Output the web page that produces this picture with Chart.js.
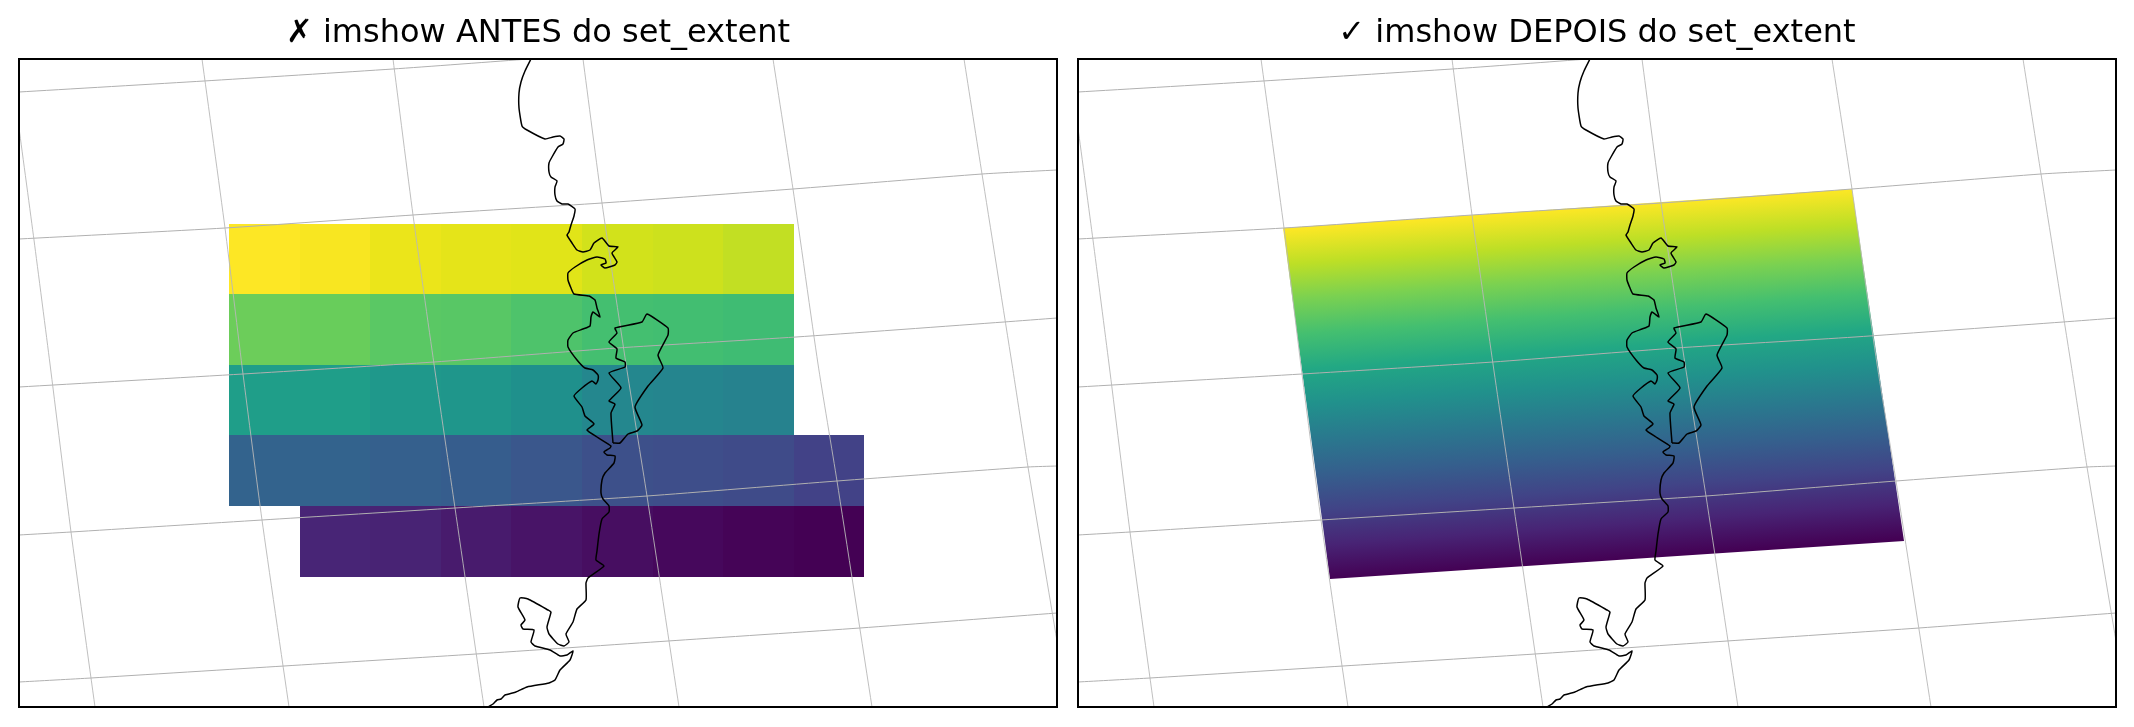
<!DOCTYPE html>
<html>
<head>
<meta charset="utf-8">
<title>imshow e set_extent</title>
<script src="https://cdn.jsdelivr.net/npm/chart.js@4"></script>
<style>
    html, body { margin: 0; padding: 0; background: #fff; overflow: hidden; }
    #page { position: relative; width: 2134px; height: 727px; }
    .panel { position: absolute; top: 0; width: 1075px; height: 727px; }
</style>
</head>
<body>
<div id="page">
    <div class="panel" style="left: 0"><canvas id="before"></canvas></div>
    <div class="panel" style="left: 1059px"><canvas id="after"></canvas></div>
</div>
<script>
const titleBefore = '✗ imshow ANTES do set_extent';
const titleAfter = '✓ imshow DEPOIS do set_extent';

// map extent
const mapWidth = 1038;
const mapHeight = 648;

// graticule
const meridianA = [[0, 69], [15, 181], [31, 305], [52, 473], [76, 648]];
const meridianB = [[183, 0], [206, 169], [224, 315], [243, 461], [270, 648]];
const meridianC = [[374, 0], [394, 156], [415, 305], [436, 449], [465, 648]];
const meridianD = [[564, 0], [583, 144], [607, 305], [628, 437], [660, 648]];
const meridianE = [[754, 0], [774, 130], [799, 305], [818, 422], [853, 648]];
const meridianF = [[945, 0], [963, 115], [993, 305], [1009, 408], [1038, 582]];
const parallelA = [[0, 33], [185, 22], [374, 10], [510, 0]];
const parallelB = [[0, 180], [206, 169], [394, 156], [583, 144], [774, 130], [963, 115], [1038, 111]];
const parallelC = [[0, 328], [224, 315], [415, 303], [598, 289], [777, 278], [985, 263], [1038, 259]];
const parallelD = [[0, 476], [52, 473], [243, 461], [436, 449], [628, 437], [818, 422], [1009, 408], [1038, 407]];
const parallelE = [[0, 623], [72, 619], [265, 607], [457, 595], [649, 582], [841, 569], [1038, 554]];

// coastline
const coastMain = [
    [512, 0], [506, 12], [502, 23], [500, 34], [500, 49], [503, 67], [508, 71], [526, 80], [534, 78], [541, 77],
    [545, 80], [544, 85], [539, 88], [533, 98], [530, 104], [530, 113], [532, 118], [538, 122], [536, 128], [536, 136],
    [538, 142], [543, 145], [549, 145], [556, 150], [555, 157], [552, 166], [550, 173], [548, 176], [553, 184], [558, 191],
    [564, 193], [571, 191], [575, 184], [583, 179], [590, 187], [599, 188], [593, 194], [598, 203], [596, 206], [586, 209],
    [582, 206], [587, 204], [586, 200], [578, 198], [568, 201], [556, 208], [549, 214], [549, 221], [552, 229], [555, 235],
    [570, 237], [576, 241], [578, 249], [581, 258], [574, 253], [572, 258], [571, 267], [564, 270], [554, 274], [549, 281],
    [549, 288], [558, 301], [566, 309], [574, 311], [579, 316], [579, 321], [577, 325], [573, 322], [563, 329], [555, 337],
    [563, 348], [566, 357], [575, 365], [568, 371], [578, 378], [592, 387], [591, 389], [585, 393], [588, 396], [596, 397],
    [595, 404], [586, 414], [583, 421], [582, 434], [584, 440], [590, 447], [590, 453], [583, 460], [580, 475], [578, 492],
    [577, 501], [585, 507], [569, 519], [567, 524], [567, 541], [558, 550], [554, 563], [547, 575], [550, 583], [545, 587],
    [539, 585], [530, 575], [528, 568], [532, 553], [529, 551], [509, 540], [501, 539], [499, 548], [506, 561], [502, 566],
    [504, 570], [515, 571], [512, 583], [516, 587], [531, 591], [541, 597], [548, 596], [554, 592], [551, 601], [541, 611],
    [536, 621], [530, 624], [508, 628], [497, 633], [486, 636], [482, 640], [478, 641], [474, 645], [469, 648]
];
const coastLoop = [
    [594, 384], [592, 354], [596, 345], [590, 342], [602, 329], [590, 314], [606, 308], [606, 303], [597, 299], [598, 290],
    [590, 283], [598, 274], [596, 269], [623, 263], [628, 255], [649, 269], [649, 276], [639, 296], [644, 309], [629, 327],
    [616, 348], [623, 366], [618, 372], [609, 375], [601, 384], [594, 384]
];

// raster cell edges on the left map
const cellX = [210, 281, 351, 422, 492, 563, 634, 704, 775, 845];
const cellY = [165, 235, 306, 376, 447, 518];
const rowStart = [0, 0, 0, 0, 1];
const rowA = ['#fde725', '#f8e621', '#ebe51a', '#e5e419', '#e1e418', '#d2e21b', '#cde11d', '#c2df23'];
const rowB = ['#6ccd5a', '#68cd5b', '#5ac864', '#58c765', '#4ec36b', '#44bf70', '#42be71', '#3fbc73'];
const rowC = ['#1f9e89', '#1f9e89', '#1f988b', '#1f968b', '#1f908c', '#24878e', '#25858e', '#26828e'];
const rowD = ['#33638d', '#33638d', '#35608d', '#365d8d', '#3a578c', '#3d508a', '#3e4e8a', '#3f4b89', '#424287'];
const rowE = ['#482576', '#482374', '#481b6d', '#481467', '#470e61', '#46085c', '#450457', '#440154'];

// warped raster on the right map
const warpedCorners = [[205, 169], [774, 130], [826, 482], [252, 520], [205, 169]];
const viridisStops = ['#440154', '#482475', '#414487', '#355f8d', '#2a788e', '#21918c', '#22a884', '#44bf70', '#7ad151', '#bddf26', '#fde725'];

function toPoints(pairs) {
    return pairs.map(function(p) { return { x: p[0], y: p[1] }; });
}

function lineSet(pairs, color, width, order, tension) {
    return {
        data: toPoints(pairs),
        borderColor: color,
        borderWidth: width,
        pointRadius: 0,
        tension: tension,
        fill: false,
        order: order
    };
}

function mapLines() {
    const sets = [meridianA, meridianB, meridianC, meridianD, meridianE, meridianF].map(function(g) {
        return lineSet(g, '#b8b8b8', 0.9, 2, 0.2);
    });
    [parallelA, parallelB, parallelC, parallelD, parallelE].forEach(function(g) {
        sets.push(lineSet(g, '#b0b0b0', 1, 2, 0.2));
    });
    sets.unshift(lineSet(coastMain, '#000000', 1.5, 1, 0.15));
    sets.unshift(lineSet(coastLoop, '#000000', 1.5, 1, 0.15));
    return sets;
}

function cellSets() {
    const sets = [];
    [rowA, rowB, rowC, rowD, rowE].forEach(function(row, r) {
        row.forEach(function(color, c) {
            const x0 = cellX[rowStart[r] + c];
            const x1 = cellX[rowStart[r] + c + 1];
            const y0 = cellY[r];
            const y1 = cellY[r + 1];
            sets.push({
                data: toPoints([[x0, y0], [x1, y0], [x1, y1], [x0, y1], [x0, y0]]),
                borderWidth: 0,
                pointRadius: 0,
                backgroundColor: color,
                fill: 'shape',
                order: 3
            });
        });
    });
    return sets;
}

function warpedSet() {
    return {
        data: toPoints(warpedCorners),
        borderWidth: 0,
        pointRadius: 0,
        fill: 'shape',
        order: 3,
        backgroundColor: function(context) {
            const chart = context.chart;
            if (!chart.chartArea) return '#21918c';
            const sx = chart.scales.x;
            const sy = chart.scales.y;
            // runs across the top and bottom edges of the warped raster
            const g = chart.ctx.createLinearGradient(
                sx.getPixelForValue(514), sy.getPixelForValue(502),
                sx.getPixelForValue(489), sy.getPixelForValue(150));
            viridisStops.forEach(function(color, i) {
                g.addColorStop(i / (viridisStops.length - 1), color);
            });
            return g;
        }
    };
}

const frame = {
    id: 'frame',
    afterDraw: function(chart) {
        const a = chart.chartArea;
        const ctx = chart.ctx;
        ctx.save();
        ctx.strokeStyle = '#000';
        ctx.lineWidth = 2;
        ctx.strokeRect(a.left, a.top, a.right - a.left, a.bottom - a.top);
        ctx.restore();
    }
};

function drawMap(id, title, raster) {
    new Chart(document.getElementById(id), {
        type: 'line',
        data: { datasets: mapLines().concat(raster) },
        options: {
            responsive: false,
            animation: false,
            devicePixelRatio: 1,
            layout: { padding: { left: 19, right: 18, bottom: 20 } },
            plugins: {
                legend: { display: false },
                tooltip: { enabled: false },
                title: {
                    display: true,
                    text: title,
                    color: '#000',
                    font: { family: '"DejaVu Sans"', size: 32, weight: 'normal' },
                    padding: { top: 14, bottom: 6.6 }
                }
            },
            scales: {
                x: { type: 'linear', display: false, min: 0, max: mapWidth },
                y: { type: 'linear', display: false, min: 0, max: mapHeight, reverse: true }
            }
        },
        plugins: [frame]
    });
}

document.querySelectorAll('canvas').forEach(function(c) {
    c.width = 1075;
    c.height = 727;
});

drawMap('before', titleBefore, cellSets());
drawMap('after', titleAfter, [warpedSet()]);
</script>
</body>
</html>
